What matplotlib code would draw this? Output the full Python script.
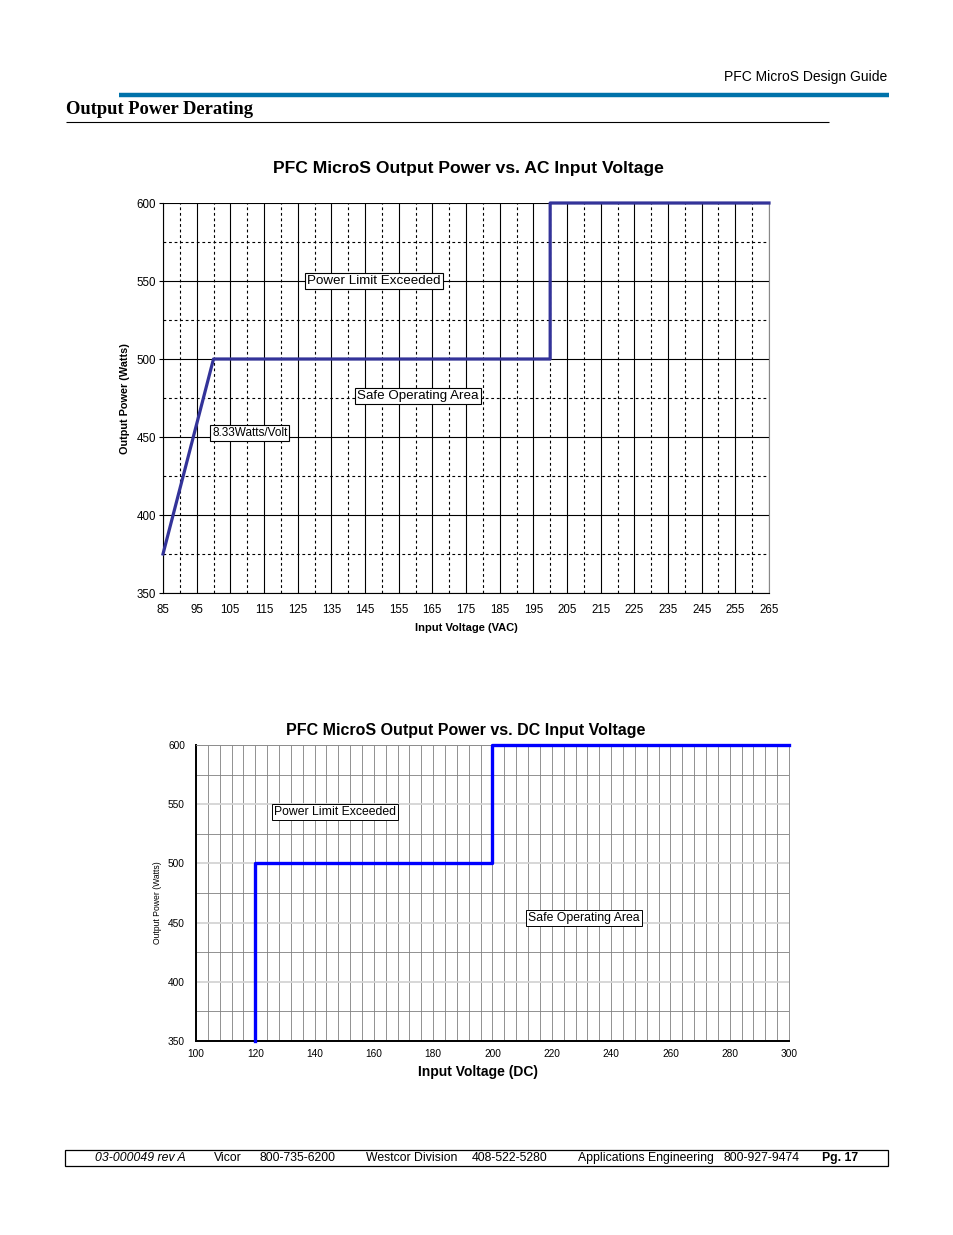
import numpy as np
import matplotlib
matplotlib.use("Agg")
import matplotlib.pyplot as plt

plt.rcParams['font.family'] = ['Liberation Sans', 'DejaVu Sans']

W, H = 954, 1235

# AC chart data
ac_volts = [85, 100, 200, 200, 265]
ac_watts = [375, 500, 500, 600, 600]
ac_xticks = list(range(85, 266, 10))
ac_yticks = [350, 400, 450, 500, 550, 600]

# DC chart data
dc_volts = [120, 120, 200, 200, 300]
dc_watts = [350, 500, 500, 600, 600]
dc_xticks = list(range(100, 301, 20))
dc_yticks = [350, 400, 450, 500, 550, 600]

footer_items = [
    (95, "03-000049 rev A", "italic", "normal"),
    (214, "Vicor", "normal", "normal"),
    (260, "800-735-6200", "normal", "normal"),
    (366, "Westcor Division", "normal", "normal"),
    (472, "408-522-5280", "normal", "normal"),
    (578, "Applications Engineering", "normal", "normal"),
    (724, "800-927-9474", "normal", "normal"),
    (822, "Pg. 17", "normal", "bold"),
]


def fx(x):
    return x / W


def fy(y):
    return 1 - y / H


def box_axes(l, t, r, b):
    return [fx(l), fy(b), (r - l) / W, (b - t) / H]


fig = plt.figure(figsize=(W / 100, H / 100), dpi=100)
fig.patch.set_facecolor('white')

# page header
fig.text(fx(887), fy(77), "PFC MicroS Design Guide", ha='right', va='center', fontsize=10)
fig.add_artist(plt.Line2D([fx(119), fx(889)], [fy(95), fy(95)], color='#0072aa', lw=3.2,
                          solid_capstyle='butt'))
fig.text(fx(66), fy(109), "Output Power Derating", ha='left', va='center',
         fontsize=13.3, fontweight='bold', family='Liberation Serif')
fig.add_artist(plt.Line2D([fx(66), fx(829)], [fy(121.5), fy(121.5)], color='black', lw=0.8,
                          solid_capstyle='butt'))

# ---- AC chart ----
ax1 = fig.add_axes(box_axes(163, 203, 769, 593))
ax1.plot(ac_volts, ac_watts, color='#333399', lw=2.3, clip_on=False, zorder=5)
ax1.set_xlim(85, 265)
ax1.set_ylim(350, 600)
ax1.set_xticks(ac_xticks)
ax1.set_xticks(np.arange(90, 265, 10), minor=True)
ax1.set_yticks(ac_yticks)
ax1.set_yticks(np.arange(375, 600, 50), minor=True)
ax1.grid(which='major', color='black', lw=0.8, ls='-')
ax1.grid(which='minor', color='black', lw=0.8, ls=(0, (2.5, 2.5)))
ax1.tick_params(which='major', labelsize=8.3, length=3, width=0.8, pad=2)
ax1.tick_params(which='minor', length=0)
ax1.tick_params(axis='x', length=0, pad=8)
for s in ax1.spines.values():
    s.set_linewidth(0.8)
ax1.spines['top'].set_visible(False)
ax1.spines['right'].set_color('#888888')
fig.text(fx(466), fy(628), "Input Voltage (VAC)", ha='center', va='center',
         fontsize=8, fontweight='bold')
fig.text(fx(125), fy(399), "Output Power (Watts)", ha='center', va='center',
         fontsize=7.8, fontweight='bold', rotation=90)
fig.text(fx(468), fy(168), "PFC MicroS Output Power vs. AC Input Voltage", ha='center',
         va='center', fontsize=12.6, fontweight='bold')
bx = dict(boxstyle='square,pad=0.15', fc='white', ec='black', lw=0.8)
ax1.text(147.7, 550, "Power Limit Exceeded", ha='center', va='center', fontsize=9.6, bbox=bx, zorder=6)
ax1.text(160.7, 476, "Safe Operating Area", ha='center', va='center', fontsize=9.6, bbox=bx, zorder=6)
ax1.text(110.8, 452.6, "8.33Watts/Volt", ha='center', va='center', fontsize=8.5, bbox=bx, zorder=6)

# ---- DC chart ----
ax2 = fig.add_axes(box_axes(196, 745, 789, 1041))
ax2.plot(dc_volts, dc_watts, color='#0000ff', lw=2.4, clip_on=False, zorder=5)
ax2.set_xlim(100, 300)
ax2.set_ylim(350, 600)
ax2.set_xticks(dc_xticks)
ax2.set_xticks(np.arange(104, 300, 4), minor=True)
ax2.set_yticks(dc_yticks)
ax2.set_yticks(np.arange(375, 600, 50), minor=True)
ax2.grid(axis='x', which='both', color='#808080', lw=0.6)
ax2.grid(axis='y', which='major', color='#d4d4d4', lw=1.3)
ax2.grid(axis='y', which='minor', color='#808080', lw=0.6)
ax2.tick_params(which='both', length=0, labelsize=7.3)
ax2.tick_params(axis='y', pad=8)
ax2.tick_params(axis='x', pad=6)
ax2.spines['left'].set_linewidth(1.4)
ax2.spines['bottom'].set_linewidth(1.4)
ax2.spines['top'].set_color('#808080')
ax2.spines['right'].set_color('#808080')
ax2.spines['top'].set_linewidth(0.6)
ax2.spines['right'].set_linewidth(0.6)
fig.text(fx(478), fy(1072), "Input Voltage (DC)", ha='center', va='center',
         fontsize=10, fontweight='bold')
fig.text(fx(158), fy(903), "Output Power (Watts)", ha='center', va='center',
         fontsize=6.2, rotation=90)
fig.text(fx(466), fy(731), "PFC MicroS Output Power vs. DC Input Voltage", ha='center',
         va='center', fontsize=11.5, fontweight='bold')
bx2 = dict(boxstyle='square,pad=0.15', fc='white', ec='black', lw=0.7)
ax2.text(146.9, 543.4, "Power Limit Exceeded", ha='center', va='center', fontsize=8.8, bbox=bx2, zorder=6)
ax2.text(230.9, 453.9, "Safe Operating Area", ha='center', va='center', fontsize=8.8, bbox=bx2, zorder=6)

# footer
fig.add_artist(plt.Rectangle((fx(65), fy(1166)), (888 - 65) / W, 16 / H,
                             fill=False, ec='black', lw=0.9))
for x, txt, style, weight in footer_items:
    fig.text(fx(x), fy(1158), txt, ha='left', va='center', fontsize=8.8,
             style=style, fontweight=weight)

fig.savefig("out.png", dpi=100)
